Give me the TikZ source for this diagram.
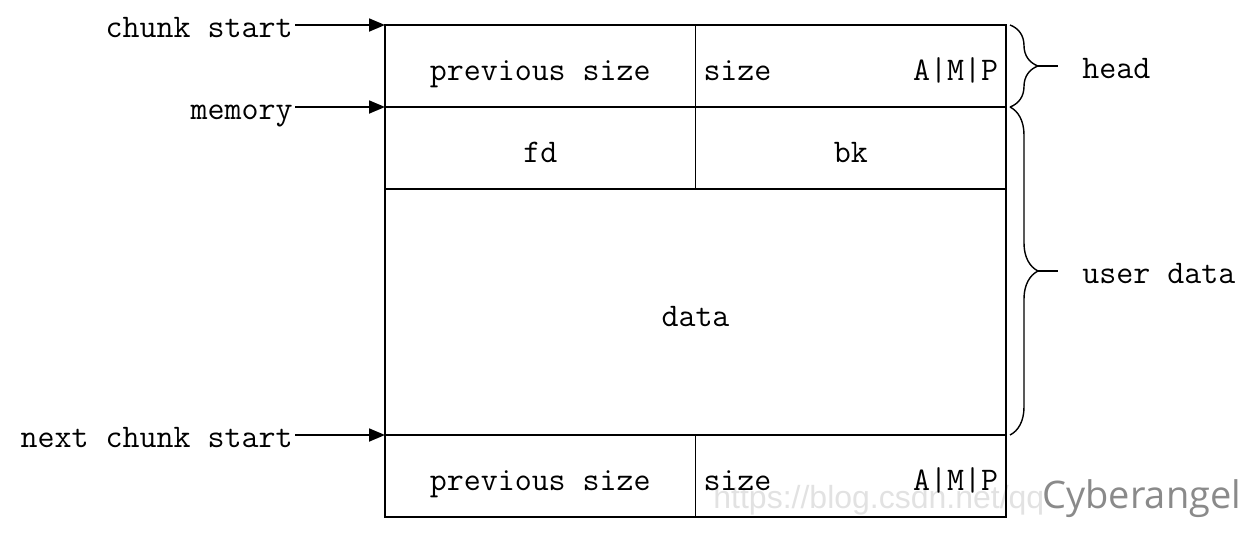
\documentclass[tikz,border=0pt]{standalone}
\usepackage{fontspec}
\newfontfamily\wmfont{Open Sans}
\newfontfamily\urlfont{Liberation Sans}
\usetikzlibrary{arrows.meta,positioning,calc,decorations.pathreplacing}
\definecolor{wmgray}{HTML}{8A8A8A}
\definecolor{urlgray}{HTML}{E2E2E2}
\newcommand{\chunkfont}{\fontsize{16.5}{19}\selectfont\ttfamily}

\begin{document}
\begin{tikzpicture}[node distance=0pt,
    every node/.style={font=\chunkfont},
    cell/.style={draw, line width=0.9pt, outer sep=0pt, inner sep=0pt,
                 minimum width=155.25pt, minimum height=41pt,
                 text height=14pt, text depth=0pt},
    flagcell/.style={cell, inner xsep=4pt, text width=147.25pt},
    datacell/.style={cell, minimum width=310.5pt, minimum height=123pt},
    lbl/.style={inner sep=1pt, text height=12pt, text depth=0pt},
    ptr/.style={line width=0.9pt, -{Triangle[length=8pt,width=6.5pt]}},
    brc/.style={line width=0.7pt, decorate, decoration={brace, amplitude=14pt}},
    tick/.style={line width=0.7pt, shorten >=11pt}]
    \useasboundingbox (0,0) rectangle (625pt,-268pt);

    % watermark
    \node[font=\urlfont\fontsize{16}{19}\selectfont, text=urlgray, anchor=base west, inner sep=0pt] (url) at (356.5pt,-254pt) {https://blog.csdn.net/qq};

    % chunk
    \node[cell, anchor=north west] (prev) at (192.5pt,-12.5pt) {previous size};
    \node[flagcell, right=of prev] (size) {size\hfill A|M|P};
    \node[cell, below=of prev] (fd) {fd};
    \node[cell, below=of size] (bk) {bk};
    \node[datacell, below=of fd.south east] (data) {data};

    % next chunk
    \node[cell, anchor=north west] (nprev) at (data.south west) {previous size};
    \node[flagcell, right=of nprev] (nsize) {size\hfill A|M|P};

    % pointers
    \node[lbl, left=45pt of prev.north west] (cstart) {chunk start};
    \node[lbl, left=45pt of fd.north west] (mem) {memory};
    \node[lbl, left=45pt of nprev.north west] (nstart) {next chunk start};
    \draw[ptr] (cstart) -- (prev.north west);
    \draw[ptr] (mem) -- (fd.north west);
    \draw[ptr] (nstart) -- (nprev.north west);

    % braces
    \draw[brc] ([xshift=2pt]size.north east) -- ([xshift=2pt]size.south east);
    \coordinate (headtip) at ([xshift=16pt]size.east);
    \node[lbl, right=21pt of headtip] (head) {head};
    \draw[tick] (headtip) -- (head);

    \draw[brc] ([xshift=2pt]bk.north east) -- ([xshift=2pt]data.south east);
    \coordinate (udtip) at ($(bk.north east)!0.5!(data.south east)+(16pt,0)$);
    \node[lbl, right=21pt of udtip] (udata) {user data};
    \draw[tick] (udtip) -- (udata);

    \node[font=\wmfont\fontsize{19}{22}\selectfont, text=wmgray, anchor=base west, inner sep=0pt] (wm) at (521pt,-254pt) {Cyberangel};
\end{tikzpicture}
\end{document}
